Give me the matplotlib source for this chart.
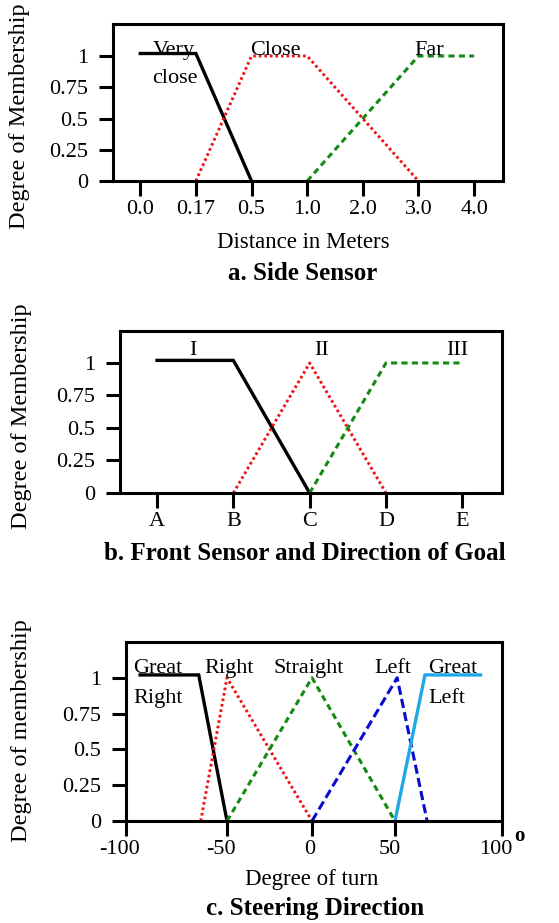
import numpy as np
import matplotlib
matplotlib.use("Agg")
import matplotlib.pyplot as plt
from matplotlib.transforms import ScaledTranslation

plt.rcParams["font.family"] = ["Liberation Serif", "DejaVu Serif"]
plt.rcParams["axes.unicode_minus"] = False

# a. side sensor (distance in meters)
side_ticks = [0.0, 0.17, 0.5, 1.0, 2.0, 3.0, 4.0]
side_tick_labels = ["0.0", "0.17", "0.5", "1.0", "2.0", "3.0", "4.0"]
very_close_x = [0.0, 0.17, 0.5]
very_close_y = [1.02, 1.02, 0.0]
close_x = [0.17, 0.5, 1.0, 3.0]
close_y = [0.0, 1.0, 1.0, 0.0]
far_x = [1.0, 3.0, 4.0]
far_y = [0.0, 1.0, 1.0]

# b. front sensor / goal direction
front_ticks = ["A", "B", "C", "D", "E"]
set1_x = ["A", "B", "C"]
set1_y = [1.02, 1.02, 0.0]
set2_x = ["B", "C", "D"]
set2_y = [0.0, 1.0, 0.0]
set3_x = ["C", "D", "E"]
set3_y = [0.0, 1.0, 1.0]

# c. steering direction (degrees)
turn_ticks = [-100, -50, 0, 50, 100]
great_right_x = [-93, -64, -50]
great_right_y = [1.02, 1.02, 0.0]
right_x = [-63, -50, 0]
right_y = [0.0, 1.0, 0.0]
straight_x = [-50, 0, 50]
straight_y = [0.0, 1.0, 0.0]
left_x = [0, 51, 65]
left_y = [0.0, 1.0, 0.0]
great_left_x = [50, 64, 90]
great_left_y = [0.0, 1.02, 1.02]

yticks = [0, 0.25, 0.5, 0.75, 1]
ytick_labels = ["0", "0.25", "0.5", "0.75", "1"]

FS = 16
W, H = 559, 923

RED = "#ee1111"
GREEN = "#138a13"
BLUE = "#0a0ad0"
CYAN = "#1ea8e6"

red_style = dict(color=RED, lw=2.1, linestyle=(0, (0.9, 1.0)))
green_style = dict(color=GREEN, lw=2.2, linestyle=(0, (2.0, 1.4)))
blue_style = dict(color=BLUE, lw=2.2, linestyle=(0, (3.0, 1.4)))


def px(x, y):
    return x / W, 1 - y / H


def style_axes(ax, xlim, ylim_top):
    ax.set_ylim(0, ylim_top)
    ax.set_xlim(*xlim)
    for s in ax.spines.values():
        s.set_linewidth(2.2)
    ax.set_yticks(yticks)
    ax.set_yticklabels(ytick_labels)
    ax.tick_params(axis="y", direction="out", length=10, width=2.2,
                   labelsize=FS, pad=8)
    ax.tick_params(axis="x", direction="out", length=10.5, width=2.2,
                   labelsize=FS, pad=3)


def add_axes(left, top, right, bottom):
    l, t = px(left, top)
    r, b = px(right, bottom)
    return fig.add_axes([l, b, r - l, t - b])


fig = plt.figure(figsize=(W / 100, H / 100), dpi=100)

# ---- a. Side Sensor
ax = add_axes(113, 24, 503, 181)
idx = np.arange(len(side_ticks))
ax.plot(np.interp(very_close_x, side_ticks, idx), very_close_y,
        color="black", lw=2.4, solid_joinstyle="miter")
ax.plot(np.interp(close_x, side_ticks, idx), close_y, **red_style)
ax.plot(np.interp(far_x, side_ticks, idx), far_y, **green_style)
ax.set_xticks(idx)
ax.set_xticklabels(side_tick_labels)
style_axes(ax, (-0.49, 6.52), 1.256)
ax.text(0.23, 1.008, "Very", fontsize=FS, va="baseline")
ax.text(0.22, 0.784, "close", fontsize=FS, va="baseline")
ax.text(1.975, 1.008, "Close", fontsize=FS, va="baseline")
ax.text(4.92, 1.008, "Far", fontsize=FS, va="baseline")
fig.text(*px(20, 116), "Degree of Membership", rotation=90,
         fontsize=17.5, ha="center", va="center")
fig.text(*px(303, 243), "Distance in Meters", fontsize=16.5,
         ha="center", va="center")
fig.text(*px(303, 274), "a. Side Sensor", fontsize=18,
         fontweight="bold", ha="center", va="center")

# ---- b. Front Sensor and Direction of Goal
ax = add_axes(120, 331, 502, 493)
pos = {k: i for i, k in enumerate(front_ticks)}
ax.plot([pos[k] for k in set1_x], set1_y, color="black", lw=2.4,
        solid_joinstyle="miter")
ax.plot([pos[k] for k in set2_x], set2_y, **red_style)
ax.plot([pos[k] for k in set3_x], set3_y, **green_style)
ax.set_xticks(range(len(front_ticks)))
ax.set_xticklabels(front_ticks)
style_axes(ax, (-0.485, 4.52), 1.246)
ax.text(0.47, 1.06, "I", fontsize=FS, va="baseline", ha="center")
ax.text(2.15, 1.06, "II", fontsize=FS, va="baseline", ha="center")
ax.text(3.93, 1.06, "III", fontsize=FS, va="baseline", ha="center")
fig.text(*px(22, 416), "Degree of Membership", rotation=90,
         fontsize=17.5, ha="center", va="center")
fig.text(*px(305, 553), "b. Front Sensor and Direction of Goal",
         fontsize=18, fontweight="bold", ha="center", va="center")

# ---- c. Steering Direction
ax = add_axes(126, 642, 502, 821)
knots_d = np.array(turn_ticks, dtype=float)
knots_p = np.array([0, 101, 186, 269, 376], dtype=float)
ax.set_xscale("function", functions=(lambda v: np.interp(v, knots_d, knots_p),
                                     lambda p: np.interp(p, knots_p, knots_d)))
ax.plot(great_right_x, great_right_y, color="black", lw=2.4,
        solid_joinstyle="miter")
ax.plot(right_x, right_y, **red_style)
ax.plot(straight_x, straight_y, **green_style)
ax.plot(left_x, left_y, **blue_style)
ax.plot(great_left_x, great_left_y, color=CYAN, lw=2.4,
        solid_joinstyle="miter")
ax.set_xticks(turn_ticks)
ax.set_xticklabels([str(t) for t in turn_ticks])
ax.xaxis.set_minor_locator(plt.NullLocator())
style_axes(ax, (-100, 100), 1.25)
label_shift = [-6, -6, -2, -5, -6]
for lbl, dx in zip(ax.get_xticklabels(), label_shift):
    lbl.set_transform(lbl.get_transform() +
                      ScaledTranslation(dx / 100, 0, fig.dpi_scale_trans))
ax.text(-96.5, 1.035, "Great", fontsize=FS, va="baseline")
ax.text(-96.5, 0.825, "Right", fontsize=FS, va="baseline")
ax.text(-61.4, 1.035, "Right", fontsize=FS, va="baseline")
ax.text(-22.4, 1.035, "Straight", fontsize=FS, va="baseline")
ax.text(37.3, 1.035, "Left", fontsize=FS, va="baseline")
ax.text(65.4, 1.035, "Great", fontsize=FS, va="baseline")
ax.text(65.4, 0.825, "Left", fontsize=FS, va="baseline")
fig.text(*px(514, 841), "o", fontsize=15, fontweight="bold",
         ha="left", va="baseline")
fig.text(*px(22, 731), "Degree of membership", rotation=90,
         fontsize=17.5, ha="center", va="center")
fig.text(*px(312, 879), "Degree of turn", fontsize=16.5,
         ha="center", va="center")
fig.text(*px(315, 908), "c. Steering Direction", fontsize=18,
         fontweight="bold", ha="center", va="center")

fig.savefig("out.png", dpi=100)
